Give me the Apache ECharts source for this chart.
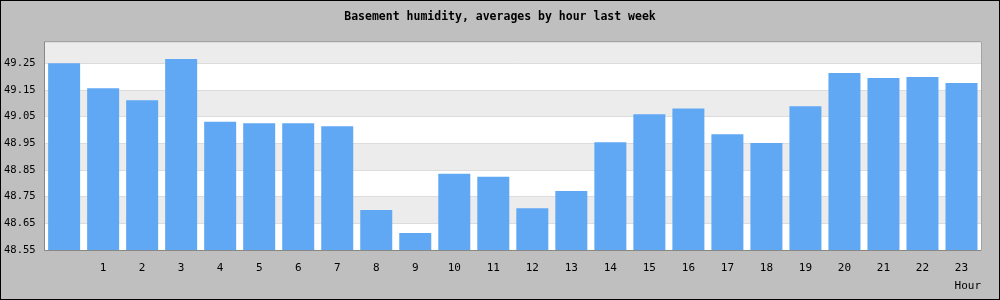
<!DOCTYPE html>
<html>
<head>
<meta charset="utf-8">
<script src="https://cdn.jsdelivr.net/npm/echarts@6/dist/echarts.min.js"></script>
<style>
html,body{margin:0;padding:0;background:#bfbfbf;}
#c{width:998px;height:298px;border:1px solid #000;}
</style>
</head>
<body>
<div id="c"></div>
<script>
const title = 'Basement humidity, averages by hour last week';
const hourLabels = ['', '1', '2', '3', '4', '5', '6', '7', '8', '9', '10', '11', '12', '13', '14', '15', '16', '17', '18', '19', '20', '21', '22', '23'];
const humidity = [49.25, 49.157, 49.112, 49.266, 49.031, 49.025, 49.025, 49.014, 48.70, 48.614, 48.836, 48.825, 48.707, 48.771, 48.954, 49.059, 49.081, 48.984, 48.951, 49.089, 49.214, 49.195, 49.199, 49.176];
const yBase = 48.55;
const yTop = 49.33;
const yStep = 0.1;

const chart = echarts.init(document.getElementById('c'), null, {renderer: 'canvas'});
const mono = 'DejaVu Sans Mono';
chart.setOption({
  animation: false,
  backgroundColor: '#bfbfbf',
  title: {
    text: title, left: 'center', top: 5,
    textStyle: {fontFamily: mono, fontSize: 11.5, fontWeight: 'bold', color: '#000'}
  },
  grid: {
    left: 43, right: 18, top: 41, bottom: 49,
    show: true, backgroundColor: '#fff', borderColor: '#888', borderWidth: 1
  },
  xAxis: {
    type: 'category',
    data: hourLabels,
    name: 'Hour', nameLocation: 'end', nameGap: 0,
    nameTextStyle: {fontFamily: mono, fontSize: 11, color: '#000', align: 'right', verticalAlign: 'top', padding: [31, 0, 0, 0]},
    axisLine: {lineStyle: {color: '#888'}},
    axisTick: {show: false},
    axisLabel: {fontFamily: mono, fontSize: 11, color: '#000', margin: 13, interval: 0}
  },
  yAxis: {
    type: 'value',
    min: 0, max: +(yTop - yBase).toFixed(2), interval: yStep,
    axisLine: {show: true, lineStyle: {color: '#888'}},
    axisTick: {show: false},
    axisLabel: {
      fontFamily: mono, fontSize: 10.5, color: '#000', margin: 9, showMaxLabel: false,
      formatter: v => (v + yBase).toFixed(2)
    },
    splitLine: {show: true, lineStyle: {color: '#dcdcdc'}},
    splitArea: {show: true, areaStyle: {color: ['#ffffff', '#ececec']}}
  },
  series: [{
    type: 'bar',
    data: humidity.map(v => +(v - yBase).toFixed(4)),
    barWidth: 32,
    itemStyle: {color: '#60a8f4'}
  }]
});
</script>
</body>
</html>
